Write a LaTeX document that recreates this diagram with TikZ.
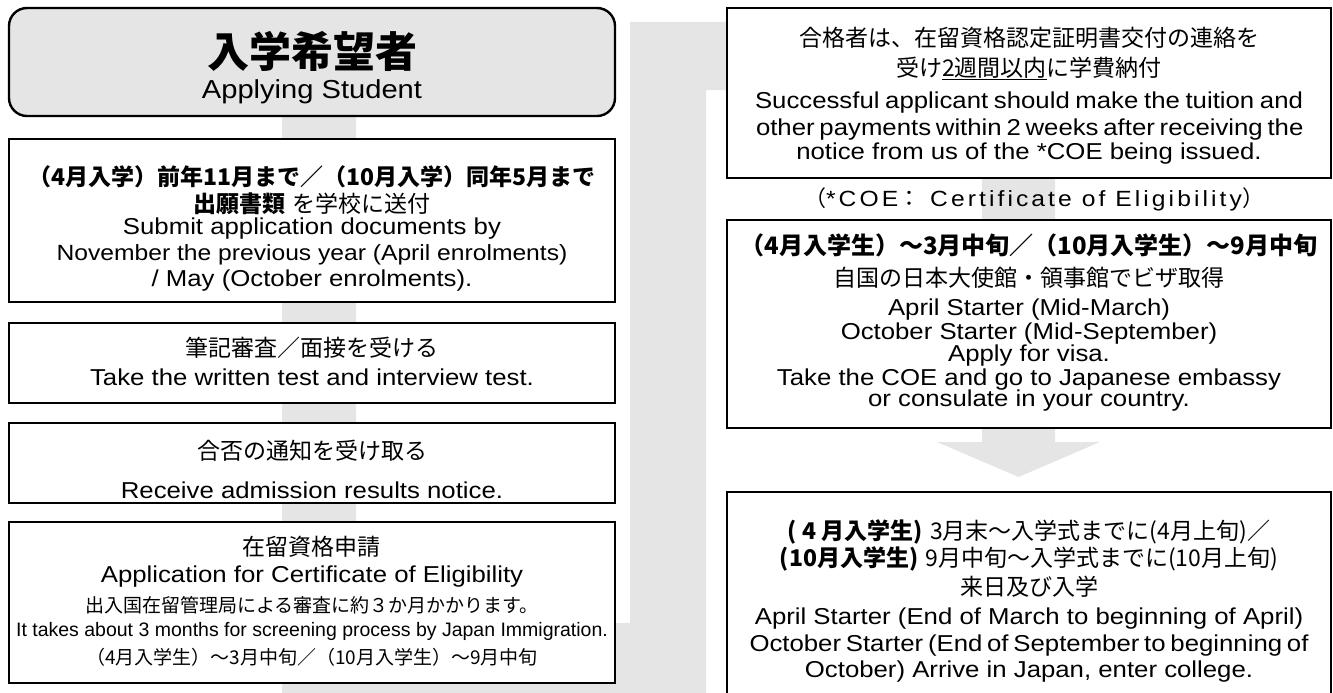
\documentclass[tikz,border=0pt]{standalone}
\usepackage{fontspec}
\setmainfont{Liberation Sans}[FakeStretch=1.12]
\newfontfamily\narrowsans{Liberation Sans}
\newfontfamily\jp{Noto Sans CJK JP}
\usetikzlibrary{positioning}

\definecolor{bandgray}{HTML}{E5E5E5}
\newcommand{\jtext}{\jp\fontsize{23}{24}\selectfont}
\newcommand{\jsmall}{\jp\fontsize{19}{24}\selectfont}
\newcommand{\esmall}{\narrowsans\fontsize{19.5}{24}\selectfont}

\tikzset{
  stepbox/.style={draw, line width=2.4pt, fill=white, inner sep=0pt, minimum width=606pt},
  steptext/.style={align=center, inner sep=0pt, font=\fontsize{23}{24}\selectfont},
}

\begin{document}
\begin{tikzpicture}[x=1pt, y=-1pt]
\useasboundingbox (0,0) rectangle (1333,693);

% gray flow band
\fill[bandgray] (282,60) -- (356,60) -- (356,623) -- (630,623) -- (630,22) -- (1055,22)
  -- (1055,442) -- (1100,442) -- (1018.5,477) -- (937,442) -- (982,442) -- (982,90)
  -- (706,90) -- (706,693) -- (282,693) -- cycle;

% left column
\node[stepbox, fill=bandgray, rounded corners=18pt, minimum height=108pt] (applicant) at (312,62) {};
\node[stepbox, minimum height=163pt] (apply) at (312,220.5) {};
\node[stepbox, minimum height=80pt] (exam) at (312,363) {};
\node[stepbox, minimum height=80pt] (result) at (312,463) {};
\node[stepbox, minimum height=161pt] (coe) at (312,602.5) {};

\node[steptext, below=24pt of applicant.north] (applicanttxt) {%
{\jp\bfseries\fontsize{42}{24}\selectfont 入学希望者}\\[7pt]%
{\fontsize{26}{24}\selectfont Applying Student}};
\node[steptext, below=28pt of apply.north] (applytxt) {%
{\jtext\bfseries （4月入学）前年11月まで／（10月入学）同年5月まで}\\[3pt]%
{\jtext\bfseries 出願書類} {\jtext を学校に送付}\\[-2pt]%
Submit application documents by\\[2pt]%
{\fontsize{22}{24}\selectfont November the previous year (April enrolments)}\\[2pt]%
/ May (October enrolments).};
\node[steptext, below=15pt of exam.north] (examtxt) {%
{\jtext 筆記審査／面接を受ける}\\[5pt]%
Take the written test and interview test.};
\node[steptext, below=18pt of result.north] (resulttxt) {%
{\jtext 合否の通知を受け取る}\\[15pt]%
Receive admission results notice.};
\node[steptext, below=15pt of coe.north] (coetxt) {%
{\jtext 在留資格申請}\\[3pt]%
Application for Certificate of Eligibility\\[6pt]%
{\jsmall 出入国在留管理局による審査に約３か月かかります。}\\%
{\esmall It takes about 3 months for screening process by Japan Immigration.}\\[4pt]%
{\jsmall （4月入学生）～3月中旬／（10月入学生）～9月中旬}};

% right column
\node[stepbox, minimum width=604pt, minimum height=170pt] (pay) at (1029,93) {};
\node[stepbox, minimum width=604pt, minimum height=208pt] (visa) at (1029,324) {};
\node[stepbox, minimum width=604pt, minimum height=212pt] (arrive) at (1029,598) {};

\node[steptext, below=20pt of pay.north] (paytxt) {%
{\jtext 合格者は、在留資格認定証明書交付の連絡を}\\[6pt]%
{\jtext 受け\underline{2週間以内}に学費納付}\\[8pt]%
\makebox[548pt][s]{Successful applicant should make the tuition and}\\[3pt]%
\makebox[546pt][s]{other payments within 2 weeks after receiving the}\\%
notice from us of the *COE being issued.};
\node[font=\fontsize{22}{24}\selectfont\addfontfeatures{LetterSpace=14}] (coenote) at (1034,199)
  {{\jp （}*COE{\jp ：} Certificate of Eligibility{\jp ）}};
\node[steptext, below=15pt of visa.north] (visatxt) {%
{\jp\fontsize{24}{24}\selectfont\bfseries （4月入学生）～3月中旬／（10月入学生）～9月中旬}\\[8pt]%
{\jtext 自国の日本大使館・領事館でビザ取得}\\[5pt]%
April Starter (Mid-March)\\%
October Starter (Mid-September)\\[-2pt]%
Apply for visa.\\%
Take the COE and go to Japanese embassy\\[-3pt]%
or consulate in your country.};
\node[steptext, below=29pt of arrive.north] (arrivetxt) {%
{\jtext\bfseries ( 4 月入学生)} {\jtext 3月末～入学式までに(4月上旬)／}\\[1pt]%
{\jtext\bfseries (10月入学生)} {\jtext 9月中旬～入学式までに(10月上旬)}\\[4pt]%
{\jtext 来日及び入学}\\[5pt]%
April Starter (End of March to beginning of April)\\[3pt]%
\makebox[559pt][s]{October Starter (End of September to beginning of}\\[2pt]%
October) Arrive in Japan, enter college.};
\end{tikzpicture}
\end{document}
